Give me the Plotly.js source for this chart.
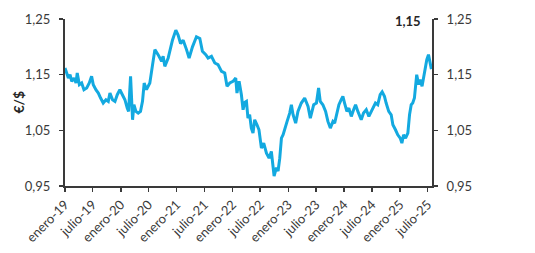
<!DOCTYPE html>
<html>
<head>
<meta charset="utf-8">
<script src="https://cdn.plot.ly/plotly-3.0.1.min.js"></script>
<style>html,body{margin:0;padding:0;background:#fff;}#chart{width:535px;height:253px;}</style>
</head>
<body>
<div id="chart"></div>
<script>
const dates = [
"2019-01-01","2019-01-12","2019-01-23","2019-02-03","2019-02-14","2019-03-01","2019-03-14","2019-03-22","2019-04-05","2019-04-20",
"2019-05-05","2019-05-23","2019-06-09","2019-06-24","2019-07-05","2019-07-22","2019-08-07","2019-08-22","2019-09-08","2019-09-26",
"2019-10-11","2019-10-22","2019-11-08","2019-11-24","2019-12-09","2019-12-26","2020-01-13","2020-01-28","2020-02-12","2020-02-21",
"2020-03-05","2020-03-11","2020-03-18","2020-03-27","2020-04-09","2020-04-24","2020-05-09","2020-05-22","2020-06-02","2020-06-17",
"2020-06-28","2020-07-09","2020-07-27","2020-08-11","2020-09-01","2020-09-24","2020-10-04","2020-10-15","2020-11-06","2020-11-17",
"2020-12-04","2020-12-26","2021-01-10","2021-01-26","2021-02-12","2021-03-06","2021-03-23","2021-04-14","2021-05-10","2021-06-01",
"2021-06-18","2021-07-10","2021-07-25","2021-08-16","2021-09-07","2021-09-28","2021-10-21","2021-11-11","2021-11-26","2021-12-14",
"2022-01-04","2022-01-22","2022-01-30","2022-02-13","2022-02-28","2022-03-11","2022-03-22","2022-04-02","2022-04-12","2022-04-23",
"2022-05-04","2022-05-15","2022-05-26","2022-06-10","2022-06-23","2022-07-09","2022-07-24","2022-08-11","2022-08-28","2022-09-12",
"2022-09-23","2022-09-30","2022-10-15","2022-10-26","2022-11-06","2022-11-17","2022-11-28","2022-12-09","2022-12-24","2023-01-10",
"2023-01-21","2023-02-01","2023-02-18","2023-03-05","2023-03-27","2023-04-18","2023-05-10","2023-05-25","2023-06-16","2023-07-04",
"2023-07-18","2023-07-29","2023-08-15","2023-09-02","2023-09-17","2023-10-03","2023-10-20","2023-10-31","2023-11-15","2023-11-28",
"2023-12-13","2023-12-24","2024-01-04","2024-01-19","2024-02-01","2024-02-17","2024-03-03","2024-03-16","2024-03-31","2024-04-11",
"2024-04-22","2024-05-07","2024-05-25","2024-06-11","2024-06-26","2024-07-11","2024-07-24","2024-08-08","2024-08-24","2024-09-06",
"2024-09-21","2024-10-02","2024-10-19","2024-11-04","2024-11-15","2024-12-02","2024-12-17","2025-01-02","2025-01-13","2025-01-24",
"2025-02-06","2025-02-21","2025-03-04","2025-03-15","2025-03-25","2025-04-05","2025-04-20","2025-05-03","2025-05-12","2025-05-25",
"2025-06-09","2025-06-25","2025-07-06","2025-07-17","2025-07-25"
];
const eurusd = [
1.162,1.153,1.144,1.150,1.138,1.144,1.135,1.153,1.132,1.135,
1.123,1.126,1.135,1.147,1.132,1.123,1.117,1.108,1.099,1.105,
1.102,1.117,1.105,1.102,1.114,1.123,1.114,1.105,1.090,1.084,
1.147,1.114,1.069,1.096,1.084,1.081,1.084,1.102,1.135,1.123,
1.130,1.135,1.168,1.195,1.186,1.174,1.183,1.165,1.180,1.192,
1.212,1.230,1.221,1.206,1.212,1.195,1.180,1.200,1.218,1.215,
1.192,1.186,1.180,1.183,1.171,1.168,1.156,1.153,1.129,1.135,
1.138,1.144,1.117,1.138,1.114,1.087,1.100,1.102,1.072,1.078,
1.054,1.045,1.069,1.060,1.051,1.018,1.027,1.009,1.000,1.012,
0.989,0.968,0.983,0.977,1.000,1.036,1.042,1.054,1.066,1.081,
1.096,1.078,1.063,1.084,1.099,1.108,1.093,1.072,1.096,1.099,
1.126,1.102,1.096,1.084,1.066,1.054,1.066,1.063,1.084,1.096,
1.105,1.111,1.099,1.084,1.090,1.075,1.087,1.096,1.084,1.075,
1.069,1.081,1.087,1.075,1.084,1.093,1.099,1.096,1.114,1.119,
1.111,1.099,1.084,1.078,1.060,1.051,1.042,1.036,1.027,1.042,
1.036,1.045,1.078,1.096,1.099,1.108,1.150,1.132,1.141,1.129,
1.156,1.177,1.186,1.174,1.160
];
const tickDates = ["2019-01-01","2019-07-01","2020-01-01","2020-07-01","2021-01-01","2021-07-01","2022-01-01","2022-07-01","2023-01-01","2023-07-01","2024-01-01","2024-07-01","2025-01-01","2025-07-01"];
const tickLabels = ["enero-19","julio-19","enero-20","julio-20","enero-21","julio-21","enero-22","julio-22","enero-23","julio-23","enero-24","julio-24","enero-25","julio-25"];
const yTicks = [0.95,1.05,1.15,1.25];
const yTitle = "€/$";
const lastLabel = "1,15";

const font = {family: "Lato, 'Open Sans', sans-serif", size: 13, color: "#3a3a3a"};
const axisCommon = {
  showgrid: false, zeroline: false, showline: true, linecolor: "#3a3a3a", linewidth: 2,
  ticks: "outside", ticklen: 4, tickwidth: 1.5, tickcolor: "#3a3a3a", tickfont: font
};

const data = [
  {x: dates, y: eurusd, type: "scatter", mode: "lines", line: {color: "#13a9e0", width: 3}, yaxis: "y", showlegend: false, hoverinfo: "skip"},
  {x: dates, y: eurusd, type: "scatter", mode: "lines", line: {color: "rgba(0,0,0,0)", width: 0}, yaxis: "y2", showlegend: false, hoverinfo: "skip"}
];

const layout = {
  width: 535, height: 253,
  margin: {l: 65, r: 102.5, t: 19, b: 66.5},
  paper_bgcolor: "#ffffff", plot_bgcolor: "#ffffff",
  separators: ",.",
  font: font,
  xaxis: Object.assign({}, axisCommon, {
    type: "date", range: ["2019-01-01", "2025-07-29"],
    tickmode: "array", tickvals: tickDates, ticktext: tickLabels, tickangle: -45
  }),
  yaxis: Object.assign({}, axisCommon, {
    range: [0.95, 1.25], tickmode: "array", tickvals: yTicks, tickformat: ".2f",
    ticklabelstandoff: 6
  }),
  yaxis2: Object.assign({}, axisCommon, {
    overlaying: "y", side: "right", anchor: "x",
    range: [0.95, 1.25], tickmode: "array", tickvals: yTicks, tickformat: ".2f",
    ticklabelstandoff: 6
  }),
  annotations: [
    {
      xref: "paper", yref: "paper", x: 0.935, y: 0.99, xanchor: "center", yanchor: "middle",
      text: lastLabel, showarrow: false,
      font: {family: "Lato, sans-serif", size: 13, color: "#262626", weight: "bold"}
    },
    {
      xref: "paper", yref: "paper", x: -0.128, y: 0.5, xanchor: "center", yanchor: "middle",
      text: yTitle, textangle: -90, showarrow: false,
      font: {family: "Lato, sans-serif", size: 14, color: "#262626", weight: "bold"}
    }
  ]
};

Plotly.newPlot("chart", data, layout, {staticPlot: true, displayModeBar: false});
</script>
</body>
</html>
